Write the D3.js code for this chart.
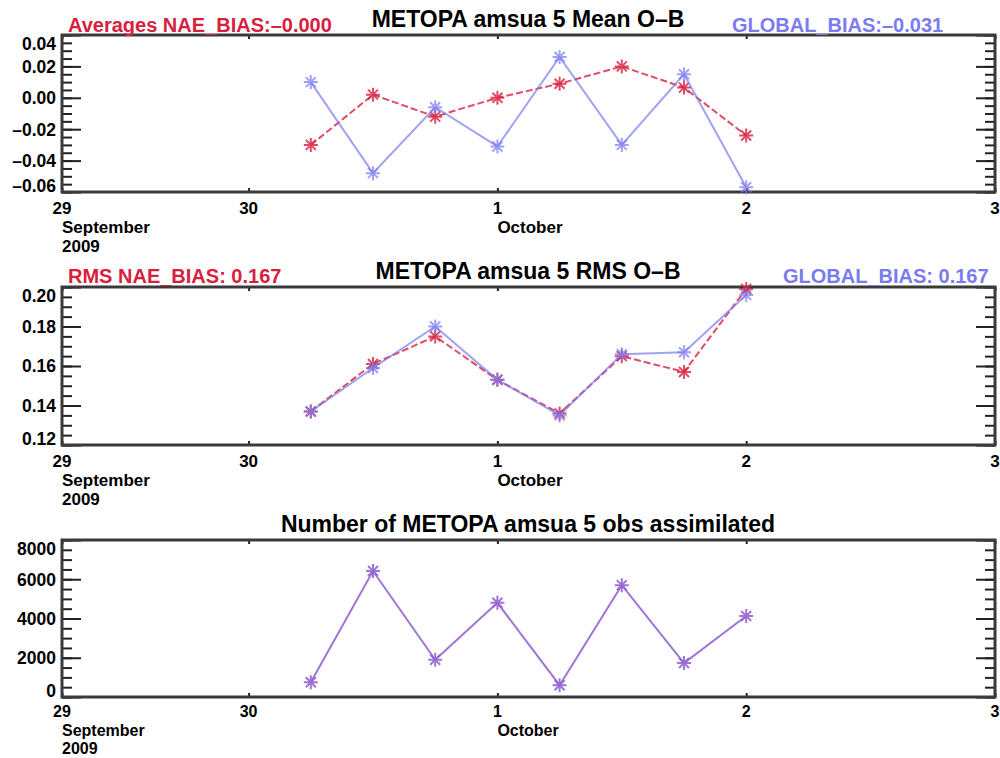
<!DOCTYPE html>
<html>
<head>
<meta charset="utf-8">
<script src="https://cdn.jsdelivr.net/npm/d3@7"></script>
<style>
  body { margin: 0; background: #fff; }
  svg { display: block; font-family: "Liberation Sans", Arial, sans-serif; font-weight: bold; }
</style>
</head>
<body>
<div id="chart"></div>
<script>
// analysis times, 6 hourly
const times = ["2009-09-30T06:00Z", "2009-09-30T12:00Z", "2009-09-30T18:00Z", "2009-10-01T00:00Z",
               "2009-10-01T06:00Z", "2009-10-01T12:00Z", "2009-10-01T18:00Z", "2009-10-02T00:00Z"]

const meanNae    = [-0.030, 0.002, -0.012, 0.000, 0.009, 0.020, 0.0065, -0.024]
const meanGlobal = [0.010, -0.048, -0.006, -0.031, 0.026, -0.030, 0.015, -0.057]
const rmsNae     = [0.137, 0.161, 0.175, 0.153, 0.136, 0.165, 0.157, 0.199]
const rmsGlobal  = [0.137, 0.159, 0.180, 0.153, 0.135, 0.166, 0.167, 0.196]
const obsCount   = [750, 6420, 1900, 4800, 600, 5700, 1730, 4130]

const meanTicks = [-0.06, -0.04, -0.02, 0.00, 0.02, 0.04]
const rmsTicks  = [0.12, 0.14, 0.16, 0.18, 0.20]
const obsTicks  = [0, 2000, 4000, 6000, 8000]

const xStart = new Date("2009-09-29T06:00Z")
const xEnd   = new Date("2009-10-03T00:00Z")
const dayTicks = [xStart, new Date("2009-09-30T00:00Z"), new Date("2009-10-01T00:00Z"),
                  new Date("2009-10-02T00:00Z"), xEnd]

const RED = "#d7213f", BLUE = "#7b7bf0", PURPLE = "#9466d2"
const W = 1000, H = 758
const MARGIN = {left: 62, right: 995}

const svg = d3.select("#chart").append("svg").attr("width", W).attr("height", H)

const x = d3.scaleUtc().domain([xStart, xEnd]).range([MARGIN.left, MARGIN.right])
const dates = times.map(t => new Date(t))

function fmt(v, dec) {
  let s = Math.abs(v).toFixed(dec)
  return (v < -1e-9 ? "\u2013" : "") + s
}

function panel(cfg) {
  const {top, bottom, domain, ticks, minor, dec, title} = cfg
  const lab = cfg.lab || {day: bottom + 22, month: bottom + 41, year: bottom + 60, size: 17}
  const y = d3.scaleLinear().domain(domain).range([bottom, top])
  const g = svg.append("g")

  // minor and major y ticks, left and right, pointing inward
  const minorVals = d3.range(domain[0], domain[1] + minor / 2, minor)
  g.append("g").attr("transform", `translate(${MARGIN.left},0)`)
    .call(d3.axisLeft(y).tickValues(minorVals).tickSize(-10).tickFormat(""))
  g.append("g").attr("transform", `translate(${MARGIN.left},0)`)
    .call(d3.axisLeft(y).tickValues(ticks).tickSize(-19).tickFormat(""))
  g.append("g").attr("transform", `translate(${MARGIN.right},0)`)
    .call(d3.axisRight(y).tickValues(minorVals).tickSize(-10).tickFormat(""))
  g.append("g").attr("transform", `translate(${MARGIN.right},0)`)
    .call(d3.axisRight(y).tickValues(ticks).tickSize(-19).tickFormat(""))
  g.selectAll(".domain").remove()
  g.selectAll(".tick line").attr("stroke", "#222").attr("stroke-width", 2)

  // y labels, end ones pulled inside the frame
  g.selectAll(".ylab").data(ticks).join("text")
    .attr("x", 56)
    .attr("y", d => Math.min(Math.max(y(d), top + 9), bottom - 6))
    .attr("dy", "0.36em")
    .attr("text-anchor", "end")
    .attr("font-size", 17.5)
    .attr("fill", "#000")
    .text(d => fmt(d, dec))

  // x ticks top and bottom (tiny)
  g.append("g").attr("transform", `translate(0,${bottom})`)
    .call(d3.axisBottom(x).tickValues(dayTicks).tickSize(-4).tickFormat(""))
  g.append("g").attr("transform", `translate(0,${top})`)
    .call(d3.axisTop(x).tickValues(dayTicks).tickSize(-4).tickFormat(""))
  g.selectAll(".domain").remove()
  g.selectAll(".tick line").attr("stroke", "#222").attr("stroke-width", 2)

  // frame
  g.append("rect")
    .attr("x", MARGIN.left).attr("y", top)
    .attr("width", MARGIN.right - MARGIN.left).attr("height", bottom - top)
    .attr("fill", "none").attr("stroke", "#3a3a3a").attr("stroke-width", 3)

  // x labels
  g.selectAll(".xlab").data(dayTicks).join("text")
    .attr("x", d => x(d)).attr("y", lab.day)
    .attr("text-anchor", "middle").attr("font-size", lab.size)
    .text(d => d.getUTCDate())
  g.append("text").attr("x", MARGIN.left).attr("y", lab.month).attr("font-size", lab.size).text("September")
  g.append("text").attr("x", MARGIN.left).attr("y", lab.year).attr("font-size", lab.size).text("2009")
  g.append("text").attr("x", x(dayTicks[2])).attr("y", lab.month).attr("font-size", lab.size).text("October")

  g.append("text").attr("x", 528).attr("y", top - 8)
    .attr("text-anchor", "middle").attr("font-size", 23).text(title)

  return {g, y}
}

function series(p, vals, color, dash, op) {
  const line = d3.line().x((d, i) => x(dates[i])).y(d => p.y(d))
  p.g.append("path").datum(vals)
    .attr("d", line).attr("fill", "none")
    .attr("stroke", color).attr("stroke-width", 2).attr("stroke-opacity", op)
    .attr("stroke-dasharray", dash)
  const r = 7, rd = 5
  const star = `M${-r},0L${r},0M0,${-r}L0,${r}M${-rd},${-rd}L${rd},${rd}M${-rd},${rd}L${rd},${-rd}`
  p.g.selectAll(null).data(vals).join("path")
    .attr("transform", (d, i) => `translate(${x(dates[i])},${p.y(d)})`)
    .attr("d", star).attr("fill", "none")
    .attr("stroke", color).attr("stroke-width", 2).attr("stroke-opacity", op)
}

const p1 = panel({top: 35, bottom: 192, domain: [-0.06, 0.04], ticks: meanTicks, minor: 0.005, dec: 2,
                  title: "METOPA amsua 5 Mean O\u2013B"})
series(p1, meanNae, RED, "7,3", 0.8)
series(p1, meanGlobal, BLUE, null, 0.7)
svg.append("text").attr("x", 68).attr("y", 32).attr("font-size", 20).attr("fill", RED)
  .text("Averages NAE_BIAS:\u20130.000")
svg.append("text").attr("x", 732).attr("y", 32).attr("font-size", 20).attr("fill", BLUE)
  .text("GLOBAL_BIAS:\u20130.031")

const p2 = panel({top: 287, bottom: 445, domain: [0.12, 0.20], ticks: rmsTicks, minor: 0.005, dec: 2,
                  title: "METOPA amsua 5 RMS O\u2013B"})
series(p2, rmsNae, RED, "7,3", 0.8)
series(p2, rmsGlobal, BLUE, null, 0.7)
svg.append("text").attr("x", 68).attr("y", 283).attr("font-size", 20).attr("fill", RED)
  .text("RMS NAE_BIAS: 0.167")
svg.append("text").attr("x", 783).attr("y", 283).attr("font-size", 20).attr("fill", BLUE)
  .text("GLOBAL_BIAS: 0.167")

const p3 = panel({top: 540, bottom: 697, domain: [0, 8000], ticks: obsTicks, minor: 500, dec: 0,
                  title: "Number of METOPA amsua 5 obs assimilated",
                  lab: {day: 717, month: 736, year: 754, size: 16}})
series(p3, obsCount, PURPLE, null, 0.9)
</script>
</body>
</html>
